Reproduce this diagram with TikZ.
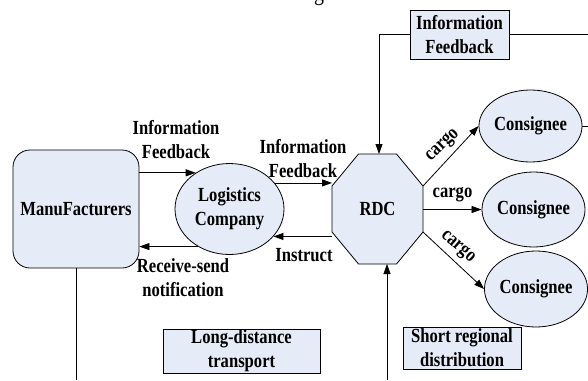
\documentclass[tikz,border=0pt]{standalone}
\usepackage{fontspec}
\setmainfont{Liberation Serif}[FakeStretch=0.83]
\usetikzlibrary{arrows.meta,shapes.geometric}
\definecolor{boxfill}{RGB}{229,235,247}
\begin{document}
\begin{tikzpicture}[x=1pt,y=-1pt,
  lbl/.style={font=\fontsize{20}{24}\selectfont\bfseries, align=center, inner sep=0pt},
  shp/.style={draw, line width=0.8pt, fill=boxfill, font=\fontsize{20}{24}\selectfont\bfseries, align=center, inner sep=0pt},
  arr/.style={draw, line width=0.8pt, -{Triangle[length=10pt,width=7pt]}},
  ln/.style={draw, line width=0.8pt}]
\useasboundingbox (0,0) rectangle (588,380);

% fragment of caption above
\node[font=\fontsize{24}{24}\selectfont, anchor=base, inner sep=0pt] (gfrag) at (319,0) {g};

% shapes
\node[shp, rounded corners=17pt, minimum width=126pt, minimum height=118pt] (man) at (76,209) {ManuFacturers};
\node[shp, ellipse, minimum width=109pt, minimum height=91pt] (log) at (229.5,209) {Logistics\\Company};

\node[minimum width=91pt, minimum height=110pt, inner sep=0pt, outer sep=0pt] (rdc) at (377.5,209) {};
\coordinate (rdcTL) at ([xshift=26.5pt]rdc.north west);
\coordinate (rdcTR) at ([xshift=-26.5pt]rdc.north east);
\coordinate (rdcUR) at ([yshift=-32pt]rdc.north east);
\coordinate (rdcLR) at ([yshift=32pt]rdc.south east);
\coordinate (rdcBR) at ([xshift=-26.5pt]rdc.south east);
\coordinate (rdcBL) at ([xshift=26.5pt]rdc.south west);
\coordinate (rdcLL) at ([yshift=32pt]rdc.south west);
\coordinate (rdcUL) at ([yshift=-32pt]rdc.north west);
\path[ln, fill=boxfill] (rdcTL) -- (rdcTR) -- (rdcUR) -- (rdcLR) -- (rdcBR) -- (rdcBL) -- (rdcLL) -- (rdcUL) -- cycle;
\node[lbl] (rdctext) at (rdc.center) {RDC};

\node[shp, ellipse, minimum width=95pt, minimum height=72pt] (c1) at (530.5,126) {Consignee};
\node[shp, ellipse, minimum width=99pt, minimum height=75pt] (c2) at (533.5,209.5) {Consignee};
\node[shp, ellipse, minimum width=97pt, minimum height=76pt] (c3) at (536,289) {Consignee};

\node[shp, minimum width=99pt, minimum height=49pt] (fbTop) at (459.5,34.5) {Information\\Feedback};
\node[shp, minimum width=157pt, minimum height=44pt] (ldt) at (241.5,351) {Long-distance\\transport};
\node[shp, minimum width=118pt, minimum height=42pt] (srd) at (462,348) {Short regional\\distribution};

% edge coordinates
\coordinate (edgeR1) at (588,34.5);
\coordinate (edgeR2) at (588,126);
\coordinate (botMan) at (76,380);
\coordinate (botRdc) at (387,380);

% connectors
\path[arr] (man.east |- log.133) -- (log.133);
\path[arr] (log.230) -- (man.east |- log.230);
\path[arr] (log.30) -- (rdc.west |- log.30);
\path[arr] (rdc.west |- log.-32) -- (log.-32);
\path[arr] (fbTop.west) -| ([xshift=1.5pt]rdc.north);
\path[ln] (fbTop.east) -- (edgeR1);
\path[ln] (c1.east) -- (edgeR2);
\path[arr] (rdcUR) -- (c1.west);
\path[arr] (rdc.east |- c2.west) -- (c2.west);
\path[arr] (rdcLR) -- (c3.west);
\path[arr] (botRdc) -- (botRdc |- rdc.south);
\path[ln] (man.south) -- (botMan);

% labels
\node[lbl] (lab1) at (176,140) {Information\\Feedback};
\node[lbl] (lab2) at (183,278) {Receive-send\\notification};
\node[lbl] (lab3) at (303,158.5) {Information\\Feedback};
\node[lbl] (lab4) at (304,255) {Instruct};
\node[lbl, rotate=44] (lab5) at (443,146) {cargo};
\node[lbl] (lab6) at (452.5,195) {cargo};
\node[lbl, rotate=-41] (lab7) at (457.5,247.5) {cargo};
\end{tikzpicture}
\end{document}
